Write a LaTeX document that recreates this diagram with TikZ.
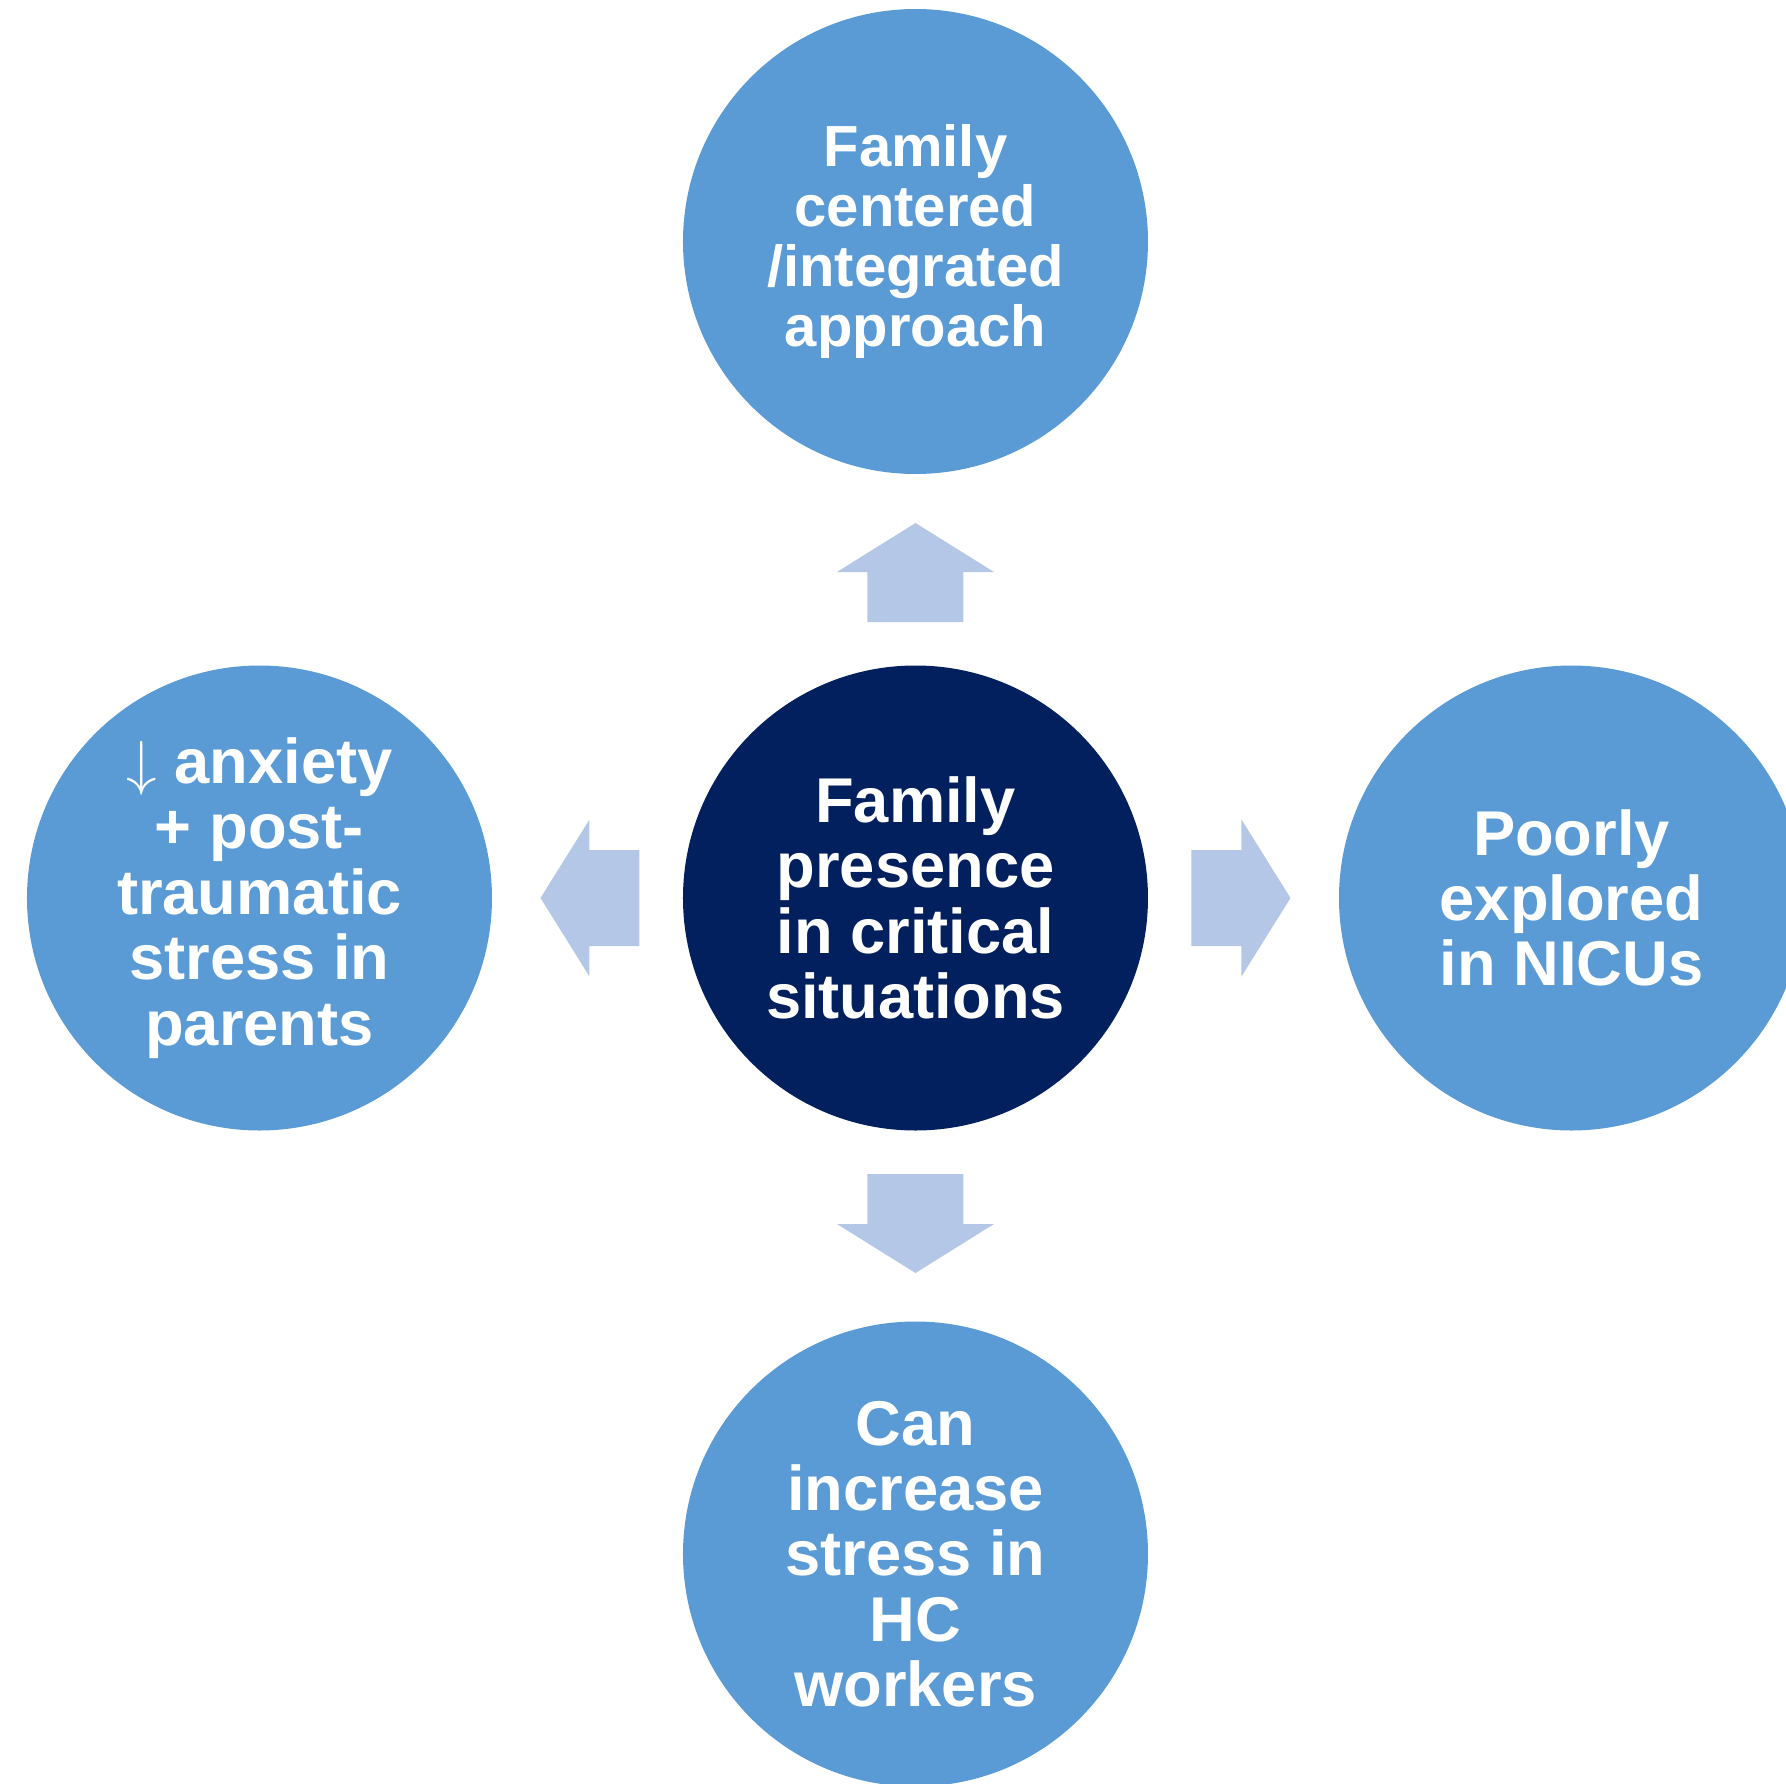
\documentclass[tikz,border=0pt]{standalone}
\usepackage{fontspec}
\setmainfont{Liberation Sans}
\definecolor{circblue}{HTML}{5B9BD5}
\definecolor{hubnavy}{HTML}{021F5E}
\definecolor{arrowblue}{HTML}{B4C7E7}
\tikzset{
  topic/.style={circle, fill=circblue, minimum size=4.65cm, inner sep=0pt,
    text=white, align=center, font=\bfseries\fontsize{18}{18.6}\selectfont},
  hub/.style={topic, fill=hubnavy},
  blockarrow/.style={fill=arrowblue}
}

\begin{document}
\begin{tikzpicture}
		\useasboundingbox (-9.155,-8.85) rectangle (8.705,8.98);
		
		\node[hub] (hub) at (0,0) {Family\\presence\\in critical\\situations};
		
		\node[topic, font=\bfseries\fontsize{16.5}{17.1}\selectfont] (approach) at (0,6.565) {Family\\centered\\/integrated\\approach};
		\node[topic] (parents) at (-6.56,0) {$\downarrow$ anxiety\\+ post-\\traumatic\\stress in\\parents};
		\node[topic] (nicu) at (6.56,0) {Poorly\\explored\\in NICUs};
		\node[topic] (workers) at (0,-6.56) {Can\\increase\\stress in\\HC\\workers};
		
		% block arrows round the hub
		\foreach \ang in {0,90,180,270}
			\fill[blockarrow, rotate=\ang] (-0.48,2.76) -- (-0.48,3.26) -- (-0.785,3.26) -- (0,3.75) -- (0.785,3.26) -- (0.48,3.26) -- (0.48,2.76) -- cycle;
		\end{tikzpicture}
\end{document}
